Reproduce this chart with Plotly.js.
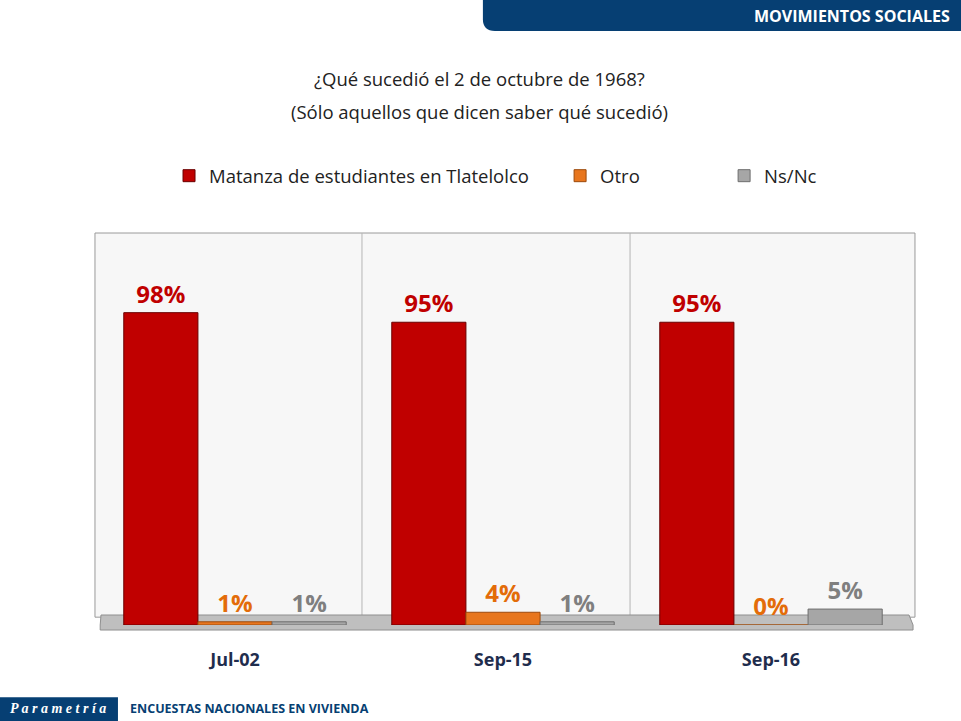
<!DOCTYPE html>
<html>
<head>
<meta charset="utf-8">
<script src="https://cdn.plot.ly/plotly-3.0.1.min.js"></script>
<style>
  body { margin: 0; background: #ffffff; }
  #graph { width: 961px; height: 721px; }
</style>
</head>
<body>
<div id="graph"></div>
<script>
// survey dates (categories on the x axis)
var fechas = ['Jul-02', 'Sep-15', 'Sep-16'];

// answer series, percent of respondents
var matanza = [98, 95, 95];
var otro = [1, 4, 0];
var nsnc = [1, 1, 5];

var nombres = ['Matanza de estudiantes en Tlatelolco', 'Otro', 'Ns/Nc'];

// colours of each series and its label
var colores = ['#C00000', '#E8761E', '#A6A6A6'];
var coloresTexto = ['#C00000', '#E36C09', '#7F7F7F'];
var bordes = ['#6b0000', '#9c4a0c', '#6e6e6e'];

// one legend per series so each entry sits where the original puts it
var legendas = ['legend', 'legend2', 'legend3'];
var legendaX = [0.0846, 0.571, 0.775];

function etiquetas(vals) {
    return vals.map(function(v) { return v + '%'; });
}

var series = [matanza, otro, nsnc];
var chartData = series.map(function(vals, i) {
    return {
        type: 'bar',
        name: nombres[i],
        legend: legendas[i],
        x: fechas,
        y: vals,
        text: etiquetas(vals),
        textposition: 'outside',
        cliponaxis: false,
        textfont: {family: 'Open Sans, sans-serif', size: 24, color: coloresTexto[i], weight: 'bold'},
        marker: {color: colores[i], line: {color: bordes[i], width: 1}},
        hoverinfo: 'skip'
    };
});

var layout = {
    width: 961,
    height: 721,
    margin: {l: 101, r: 56, t: 233, b: 96},
    paper_bgcolor: '#ffffff',
    plot_bgcolor: 'rgba(0,0,0,0)',
    font: {family: 'Open Sans, sans-serif', color: '#222222'},
    barmode: 'group',
    bargap: 0.17,
    bargroupgap: 0,
    showlegend: true,
    xaxis: {
        type: 'category',
        showline: false,
        ticks: '',
        tickfont: {size: 18, color: '#1F2D4D', weight: 'bold'},
        ticklabelstandoff: 22
    },
    yaxis: {
        range: [0, 123],
        showticklabels: false,
        showgrid: false,
        zeroline: false,
        showline: false
    },
    annotations: [
        {
            text: '¿Qué sucedió el 2 de octubre de 1968?',
            xref: 'paper', yref: 'paper', x: 0.471, y: 1.395,
            xanchor: 'center', yanchor: 'middle',
            showarrow: false,
            font: {size: 18.5, color: '#222222'}
        },
        {
            text: '(Sólo aquellos que dicen saber qué sucedió)',
            xref: 'paper', yref: 'paper', x: 0.471, y: 1.311,
            xanchor: 'center', yanchor: 'middle',
            showarrow: false,
            font: {size: 18.5, color: '#222222'}
        },
        {
            text: '<b>MOVIMIENTOS SOCIALES</b>',
            xref: 'paper', yref: 'paper', x: 1.058, y: 1.554,
            xanchor: 'right', yanchor: 'middle',
            showarrow: false,
            font: {size: 16, color: '#ffffff'}
        },
        {
            text: '<i><b>P a r a m e t r í a</b></i>',
            xref: 'paper', yref: 'paper', x: -0.1157, y: -0.214,
            xanchor: 'left', yanchor: 'middle',
            showarrow: false,
            font: {family: 'Liberation Serif, serif', size: 14, color: '#ffffff'}
        },
        {
            text: '<b>ENCUESTAS NACIONALES EN VIVIENDA</b>',
            xref: 'paper', yref: 'paper', x: 0.0336, y: -0.214,
            xanchor: 'left', yanchor: 'middle',
            showarrow: false,
            font: {size: 12.5, color: '#063F73'}
        }
    ],
    shapes: [
        // header band
        {type: 'path', xref: 'paper', yref: 'paper', layer: 'below',
         path: 'M 0.475,1.6 L 1.07,1.6 L 1.07,1.515 L 0.49,1.515 Q 0.475,1.515 0.475,1.545 Z',
         fillcolor: '#063F73', line: {width: 0}},
        // footer box
        {type: 'rect', xref: 'paper', yref: 'paper', layer: 'below',
         x0: -0.13, x1: 0.0211, y0: -0.245, y1: -0.184,
         fillcolor: '#063F73', line: {width: 0}},
        // back wall of the chart
        {type: 'rect', xref: 'paper', yref: 'paper', layer: 'below',
         x0: -0.0075, x1: 1.0124, y0: 0.02, y1: 1,
         fillcolor: '#f7f7f7', line: {color: '#9a9a9a', width: 1}},
        // category dividers
        {type: 'line', xref: 'paper', yref: 'paper', layer: 'below',
         x0: 0.3246, x1: 0.3246, y0: 0.02, y1: 1,
         line: {color: '#b5b5b5', width: 1}},
        {type: 'line', xref: 'paper', yref: 'paper', layer: 'below',
         x0: 0.658, x1: 0.658, y0: 0.02, y1: 1,
         line: {color: '#b5b5b5', width: 1}},
        // floor of the chart
        {type: 'path', xref: 'paper', yref: 'paper', layer: 'below',
         path: 'M 0.0,0.0255 L 1.005,0.0255 L 1.01,0.0 L 1.01,-0.0128 L -0.001,-0.0128 L -0.001,0.0 Z',
         fillcolor: '#bfbfbf', line: {color: '#8f8f8f', width: 1}}
    ]
};

// place the three legends on one row
legendas.forEach(function(key, i) {
    layout[key] = {
        orientation: 'h',
        x: legendaX[i], y: 1.145,
        xanchor: 'left', yanchor: 'middle',
        font: {size: 18.5, color: '#222222'},
        itemwidth: 30,
        bgcolor: 'rgba(0,0,0,0)'
    };
});

Plotly.newPlot('graph', chartData, layout, {displayModeBar: false, staticPlot: true});
</script>
</body>
</html>
